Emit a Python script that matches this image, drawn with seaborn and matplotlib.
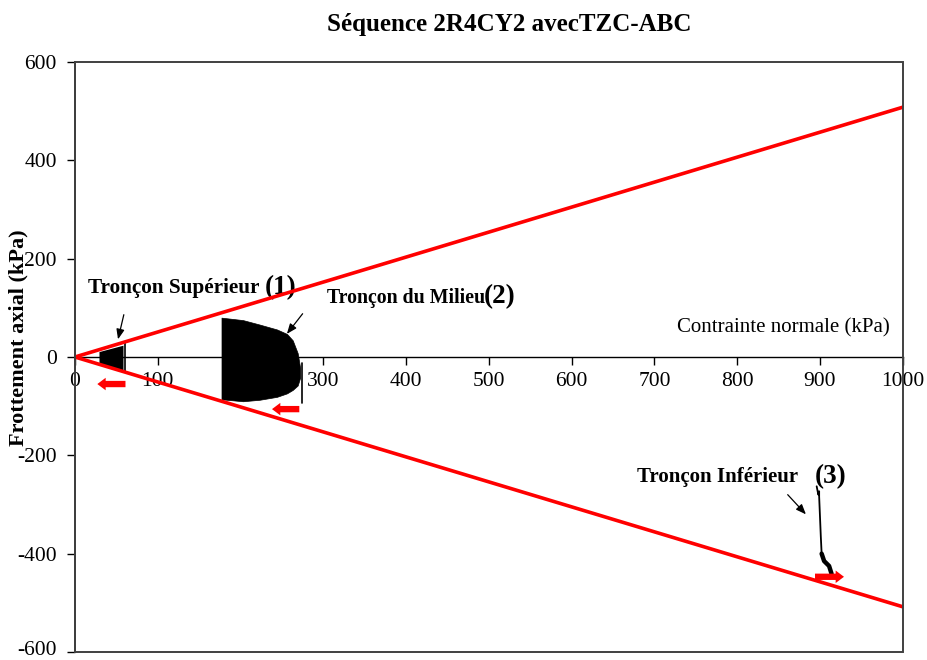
import matplotlib
matplotlib.use("Agg")
import matplotlib.pyplot as plt
from matplotlib.patches import Rectangle
import matplotlib.transforms as mtransforms
import seaborn as sns
import pandas as pd
import numpy as np

sns.set_theme(style="white")
plt.rcParams['font.family'] = ['Liberation Serif', 'DejaVu Serif']
plt.rcParams['text.color'] = 'black'
plt.rcParams['axes.labelcolor'] = 'black'
plt.rcParams['xtick.color'] = 'black'
plt.rcParams['ytick.color'] = 'black'

# ---- data ----
envelope_x = [0, 1000]
envelope_upper = [0, 508]
envelope_lower = [0, -508]

seg1_x = [29, 58]
seg1_upper = [11, 24]
seg1_lower = [-12, -29]
seg1_spike_x = [60, 60]
seg1_spike_y = [29, -29]

seg2_x = [177, 203, 223, 244, 256, 263, 269, 272]
seg2_upper = [80, 75, 66, 56, 47, 34, 8, -22]
seg2_lower = [-86, -90, -87, -81, -74, -67, -58, -42]
seg2_spike_x = [274, 274]
seg2_spike_y = [-12, -94]

seg3_x = [896, 898, 899, 899, 901, 902]
seg3_y = [-263, -280, -273, -284, -365, -400]
seg3_tail_x = [902, 905, 911, 914]
seg3_tail_y = [-400, -415, -425, -441]

x_ticks = list(range(0, 1001, 100))
y_ticks = list(range(-600, 601, 200))

fig = plt.figure(figsize=(9.28, 6.6), dpi=100)
ax = fig.add_axes([0.0808, 0.0121, 0.892, 0.894])

env = pd.DataFrame({"x": envelope_x * 2,
                    "y": envelope_upper + envelope_lower,
                    "g": ["up", "up", "low", "low"]})
sns.lineplot(data=env, x="x", y="y", units="g", estimator=None,
             color="#ff0000", lw=2.6, ax=ax, legend=False, zorder=4)

ax.fill_between(seg1_x, seg1_upper, seg1_lower, color="black", lw=0, zorder=3)
sns.lineplot(x=seg1_spike_x, y=seg1_spike_y, color="black", lw=1.2, ax=ax,
             estimator=None, sort=False, zorder=3)
ax.fill_between(seg2_x, seg2_upper, seg2_lower, color="black", lw=0.5,
                edgecolor="black", zorder=3)
sns.lineplot(x=seg2_spike_x, y=seg2_spike_y, color="black", lw=1.2, ax=ax,
             estimator=None, sort=False, zorder=3)
sns.lineplot(x=seg3_x, y=seg3_y, color="black", lw=1.3, ax=ax,
             estimator=None, sort=False, zorder=3)
sns.lineplot(x=seg3_tail_x, y=seg3_tail_y, color="black", lw=3.2, ax=ax,
             estimator=None, sort=False, zorder=3)

ax.set_xlim(0, 1000)
ax.set_ylim(-600, 600)
ax.set_xticks(x_ticks)
ax.set_yticks(y_ticks)
ax.set_xticklabels([str(v) for v in x_ticks])
ax.set_yticklabels([str(v) for v in y_ticks])
ax.spines['bottom'].set_position(('data', 0))
for s in ['top', 'right']:
    ax.spines[s].set_visible(False)
ax.spines['left'].set_color('black')
ax.spines['bottom'].set_color('black')
ax.spines['left'].set_linewidth(1.2)
ax.spines['bottom'].set_linewidth(1.0)
ax.add_patch(Rectangle((0, 0), 1, 1, transform=ax.transAxes, fill=False,
                       ec="#404040", lw=1.4, clip_on=False, zorder=5))
ax.tick_params(axis='x', direction='out', length=6, width=1, color='black',
               labelsize=15.5, pad=5, bottom=True)
ax.tick_params(axis='y', direction='out', length=6, width=1, color='black',
               labelsize=15.5, pad=7, left=True)
ax.grid(False)
# keep the lowest y label inside the canvas
lab = ax.get_yticklabels()[0]
lab.set_transform(lab.get_transform() +
                  mtransforms.ScaledTranslation(0, 4 / 100, fig.dpi_scale_trans))

fig.text(509 / 928, 1 - 25 / 660, "Séquence 2R4CY2 avecTZC-ABC",
         fontsize=18, fontweight='bold', ha='center', va='center')
ax.set_ylabel("Frottement axial (kPa)", fontsize=16, fontweight='bold')
ax.yaxis.set_label_coords(-0.056, 0.532)
ax.set_xlabel("")
ax.text(984, 59, "Contrainte normale (kPa)", fontsize=15, ha='right',
        va='center')

ax.text(15.7, 140, "Tronçon Supérieur", fontsize=15.3, fontweight='bold',
        va='center')
ax.text(229, 142, "(1)", fontsize=19.5, fontweight='bold', va='center')
ax.text(304, 120, "Tronçon du Milieu", fontsize=14.3, fontweight='bold',
        va='center')
ax.text(494, 122, "(2)", fontsize=19.5, fontweight='bold', va='center')
ax.text(679, -244, "Tronçon Inférieur", fontsize=15, fontweight='bold',
        va='center')
ax.text(894, -244, "(3)", fontsize=19.5, fontweight='bold', va='center')

blk = dict(arrowstyle="-|>,head_length=0.5,head_width=0.2", color="black",
           lw=0.9, shrinkA=0, shrinkB=0)
ax.annotate("", xy=(52, 36), xytext=(59, 86), arrowprops=blk, zorder=6)
ax.annotate("", xy=(256, 47), xytext=(275, 88), arrowprops=blk, zorder=6)
ax.annotate("", xy=(883, -320), xytext=(861, -280), arrowprops=blk, zorder=6)

red = dict(arrowstyle="simple,head_length=0.5,head_width=0.75,tail_width=0.38",
           color="#ff0000", lw=0, shrinkA=0, shrinkB=0, mutation_scale=12)
ax.annotate("", xy=(27, -55), xytext=(61, -55), arrowprops=red, zorder=6)
ax.annotate("", xy=(238, -106), xytext=(271, -106), arrowprops=red, zorder=6)
ax.annotate("", xy=(929, -447), xytext=(894, -447), arrowprops=red, zorder=6)

fig.savefig("out.png", dpi=100)
